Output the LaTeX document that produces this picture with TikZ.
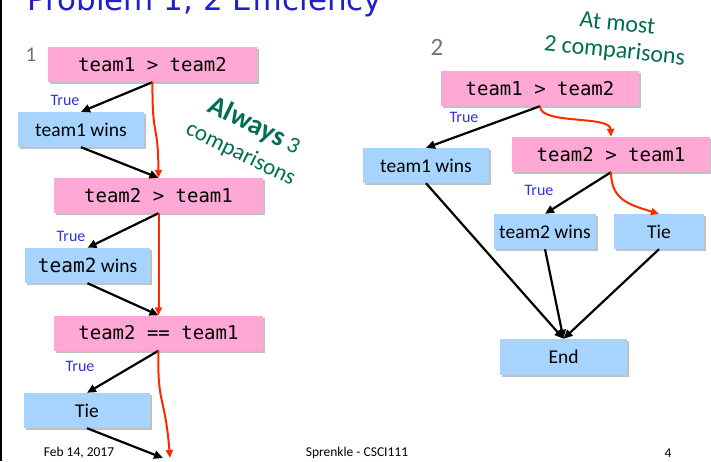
\documentclass[tikz,border=0pt]{standalone}
\usepackage{fontspec}
\setmainfont{Carlito}
\newfontfamily\monofam{DejaVu Sans Mono}
\newfontfamily\titlefam{DejaVu Sans}
\usepackage{xcolor}
\usetikzlibrary{positioning, arrows.meta, shadows}

\definecolor{condpink}{RGB}{255,168,214}
\definecolor{outblue}{RGB}{166,212,255}
\definecolor{notegreen}{RGB}{0,110,80}
\definecolor{truecol}{RGB}{50,50,220}
\definecolor{takenred}{RGB}{255,40,0}
\definecolor{titleblue}{RGB}{30,30,205}

\begin{document}
\begin{tikzpicture}[x=1pt, y=-1pt,
  boxshadow/.style={drop shadow={shadow xshift=2pt, shadow yshift=-2pt, opacity=0.35, fill=black!70}},
  cond/.style={fill=condpink, minimum height=35pt, inner sep=0pt, boxshadow, font=\monofam\fontsize{19}{22}\selectfont},
  outcome/.style={fill=outblue, minimum height=35pt, inner sep=0pt, boxshadow, font=\fontsize{19.5}{22}\selectfont},
  truelbl/.style={text=truecol, font=\fontsize{16}{18}\selectfont},
  numlbl/.style={text=black!55, font=\fontsize{21}{24}\selectfont},
  note/.style={text=notegreen, align=center},
  flow/.style={-{Triangle[length=9pt, width=8pt]}, line width=2.2pt},
  taken/.style={-{Triangle[length=8pt, width=7pt]}, draw=takenred, fill=none, line width=2pt},
  footer/.style={font=\fontsize{13.5}{16}\selectfont}]
\useasboundingbox (0,0) rectangle (711,461);
\clip (0,0) rectangle (711,461);

% Slide title and border
\node[anchor=base west, inner sep=0pt, text=titleblue, font=\titlefam\fontsize{31}{36}\selectfont] (title) at (27,10) {Problem 1, 2 Efficiency};
\draw[line width=2.5pt] (1,0) -- (1,461);

% Left flowchart
\node[numlbl] (one) at (31,55) {1};
\node[cond, minimum width=209pt] (a1) at (152.5,64.5) {team1 > team2};
\node[outcome, minimum width=126pt] (b1) at (81,129.5) {team1 wins};
\node[cond, minimum width=209pt] (a2) at (158.5,195.5) {team2 > team1};
\node[outcome, minimum width=125pt] (b2) at (87.5,265.5) {{\monofam team2} wins};
\node[cond, minimum width=209pt] (a3) at (158.5,333) {team2 == team1};
\node[outcome, minimum width=126pt] (b3) at (87,410.5) {Tie};
\coordinate (outl) at (163,458);
\coordinate (outr) at (170,458);

\node[truelbl] (t1) at (65,100) {True};
\node[truelbl] (t2) at (71,236) {True};
\node[truelbl] (t3) at (80,366) {True};

\node[note, rotate=-26, inner sep=0pt, font=\fontsize{23}{30}\selectfont] (always) at (248,139) {{\fontsize{28}{30}\selectfont\bfseries Always} 3\\comparisons};

\draw[flow] (a1.south) -- (b1.north);
\draw[flow] (b1.south) -- (a2.north);
\draw[flow] (a2.south) -- (b2.north);
\draw[flow] (b2.south) -- (a3.north);
\draw[flow] (a3.south) -- (b3.north);
\draw[flow] (b3.south) -- (outl);

\draw[taken] (a1.south) .. controls (152,140) and (158,120) .. (a2.north);
\draw[taken] (a2.south) -- (a3.north);
\draw[taken] (a3.south) .. controls (157,405) and (165,395) .. (outr);

% Right flowchart
\node[numlbl, font=\fontsize{25}{28}\selectfont] (two) at (437,47) {2};
\node[note, rotate=-6, inner sep=0pt, font=\fontsize{24}{27}\selectfont] (atmost) at (616,38.5) {At most\\2 comparisons};
\node[cond, minimum width=198pt] (c1) at (540,88.5) {team1 > team2};
\node[outcome, minimum width=126pt] (d1) at (426,165.5) {team1 wins};
\node[cond, minimum width=198pt] (c2) at (611,154.5) {team2 > team1};
\node[outcome, minimum width=102pt] (d2) at (545,231.5) {team2 wins};
\node[outcome, minimum width=90pt] (tie) at (659,231.5) {Tie};
\node[outcome, minimum width=127pt, minimum height=36pt] (end) at (563.5,357) {End};

\node[truelbl] (t4) at (464,117) {True};
\node[truelbl] (t5) at (539,190) {True};

\draw[flow] (c1.south) -- (d1.north);
\draw[flow] (c2.south) -- (d2.north);
\draw[flow] (d1.south) -- (end.north);
\draw[flow] (d2.south) -- (end.north);
\draw[flow] (tie.south) -- (end.north);

\draw[taken] (c1.south) .. controls (540,125) and (610,115) .. (c2.north);
\draw[taken] (c2.south) .. controls (611,200) and (630,205) .. (tie.north);

% Footer
\node[footer] (date) at (79,453) {Feb 14, 2017};
\node[footer] (course) at (357,453) {Sprenkle - CSCI111};
\node[footer] (page) at (668,453) {4};
\end{tikzpicture}
\end{document}
